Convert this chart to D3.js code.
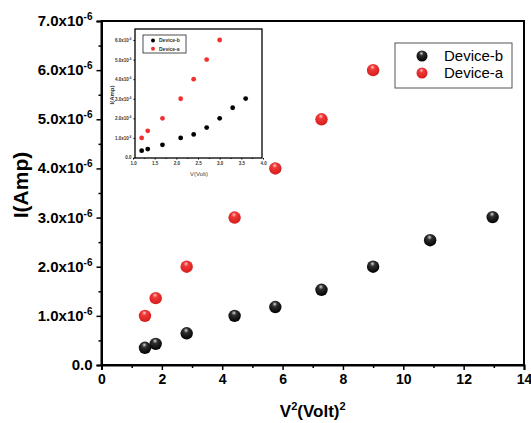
<!DOCTYPE html>
<html>
<head>
<meta charset="utf-8">
<script src="https://cdn.jsdelivr.net/npm/d3@7"></script>
<style>
  body { margin: 0; background: #fff; }
  svg { display: block; font-family: "Liberation Sans", Arial, sans-serif; }
</style>
</head>
<body>
<div id="chart"></div>
<script>
// voltages (V) and currents (x1e-6 A)
const voltB = [1.2, 1.34, 1.68, 2.1, 2.4, 2.7, 3.0, 3.3, 3.6];
const currB = [0.35, 0.43, 0.645, 1.0, 1.18, 1.53, 2.0, 2.54, 3.01];
const voltA = [1.2, 1.34, 1.68, 2.1, 2.4, 2.7, 3.0];
const currA = [1.0, 1.36, 2.0, 3.0, 4.0, 5.0, 6.0];

const seriesNames = ["Device-b", "Device-a"];
const xTicks = [0, 2, 4, 6, 8, 10, 12, 14];
const yTicks = [0, 1, 2, 3, 4, 5, 6, 7];
const insetXTicks = [1.0, 1.5, 2.0, 2.5, 3.0, 3.5, 4.0];
const insetYTicks = [0, 1, 2, 3, 4, 5, 6];

const W = 531, H = 423;
const svg = d3.select("#chart").append("svg").attr("width", W).attr("height", H);

// sphere gradients
const defs = svg.append("defs");
function ball(id, hi, mid, lo) {
    let g = defs.append("radialGradient").attr("id", id)
        .attr("cx", "45%").attr("cy", "35%").attr("r", "65%")
        .attr("fx", "45%").attr("fy", "25%");
    g.append("stop").attr("offset", "0%").attr("stop-color", hi);
    g.append("stop").attr("offset", "30%").attr("stop-color", mid);
    g.append("stop").attr("offset", "100%").attr("stop-color", lo);
}
ball("ballB", "#d8d8d8", "#303030", "#000");
ball("ballA", "#ffc8c8", "#f03838", "#d41c1c");

const dataB = voltB.map((v, i) => ({v: v, i: currB[i]}));
const dataA = voltA.map((v, i) => ({v: v, i: currA[i]}));

// ---------- main chart ----------
const m = {left: 101.5, right: 524, top: 21, bottom: 365};
const x = d3.scaleLinear().domain([0, 14]).range([m.left, m.right]);
const y = d3.scaleLinear().domain([0, 7]).range([m.bottom, m.top]);

// frame
svg.append("rect")
    .attr("x", m.left).attr("y", m.top)
    .attr("width", m.right - m.left).attr("height", m.bottom - m.top)
    .attr("fill", "none").attr("stroke", "#000").attr("stroke-width", 2);

// minor ticks
svg.append("g").attr("transform", `translate(0,${m.bottom})`)
    .call(d3.axisBottom(x).tickValues(d3.range(1, 14, 2)).tickSize(3).tickFormat(""))
    .call(g => g.select(".domain").remove())
    .selectAll("line").attr("stroke-width", 1.5);
svg.append("g").attr("transform", `translate(${m.left},0)`)
    .call(d3.axisLeft(y).tickValues(d3.range(0.5, 7, 1)).tickSize(3).tickFormat(""))
    .call(g => g.select(".domain").remove())
    .selectAll("line").attr("stroke-width", 1.5);

// major x axis
const gx = svg.append("g").attr("transform", `translate(0,${m.bottom})`)
    .call(d3.axisBottom(x).tickValues(xTicks).tickSize(5).tickPadding(4).tickFormat(d3.format("d")));
gx.select(".domain").attr("stroke-width", 2);
gx.selectAll("line").attr("stroke-width", 1.5);
gx.selectAll("text").attr("font-size", 14).attr("font-weight", "bold")
    .attr("font-family", "Liberation Sans, Arial").attr("fill", "#000");

// major y axis, with superscript labels
const gy = svg.append("g").attr("transform", `translate(${m.left},0)`)
    .call(d3.axisLeft(y).tickValues(yTicks).tickSize(5).tickPadding(4));
gy.select(".domain").attr("stroke-width", 2);
gy.selectAll("line").attr("stroke-width", 1.5);
gy.selectAll("text").each(function(d) {
    let t = d3.select(this).text("")
        .attr("font-size", 15).attr("font-weight", "bold")
        .attr("font-family", "Liberation Sans, Arial").attr("fill", "#000");
    if (d === 0) {
        t.text("0.0");
    } else {
        t.append("tspan").text(d3.format(".1f")(d) + "x10");
        t.append("tspan").attr("dy", -6).attr("font-size", 10).text("-6");
    }
});
gy.selectAll("text").attr("dy", d => d === 0 ? "0.3em" : "0.3em");

// axis titles
svg.append("text")
    .attr("transform", `translate(28,${(m.top + m.bottom) / 2 - 8}) rotate(-90)`)
    .attr("text-anchor", "middle").attr("font-size", 21).attr("font-weight", "bold")
    .text("I(Amp)");

const xt = svg.append("text").attr("x", (m.left + m.right) / 2).attr("y", 417)
    .attr("text-anchor", "middle").attr("font-size", 17).attr("font-weight", "bold");
xt.append("tspan").text("V");
xt.append("tspan").attr("dy", -7).attr("font-size", 11).text("2");
xt.append("tspan").attr("dy", 7).text("(Volt)");
xt.append("tspan").attr("dy", -7).attr("font-size", 11).text("2");

// points
svg.append("g").selectAll("circle").data(dataB).join("circle")
    .attr("cx", d => x(d.v * d.v)).attr("cy", d => y(d.i))
    .attr("r", 6.2).attr("fill", "url(#ballB)");
svg.append("g").selectAll("circle").data(dataA).join("circle")
    .attr("cx", d => x(d.v * d.v)).attr("cy", d => y(d.i))
    .attr("r", 6.2).attr("fill", "url(#ballA)");

// legend
const lg = svg.append("g");
lg.append("rect").attr("x", 395).attr("y", 43).attr("width", 117).attr("height", 45)
    .attr("fill", "#fff").attr("stroke", "#555").attr("stroke-width", 1);
seriesNames.forEach((name, k) => {
    lg.append("circle").attr("cx", 422).attr("cy", 56 + k * 17).attr("r", 5.5)
        .attr("fill", k === 0 ? "url(#ballB)" : "url(#ballA)");
    lg.append("text").attr("x", 444).attr("y", 56 + k * 17).attr("dy", "0.35em")
        .attr("font-size", 15).text(name);
});

// ---------- inset ----------
const n = {left: 135, right: 262, top: 29, bottom: 158};
const ix = d3.scaleLinear().domain([1.0, 4.0]).range([133, 263]);
const iy = d3.scaleLinear().domain([0, 6]).range([157.5, 40]);

svg.append("rect")
    .attr("x", n.left).attr("y", n.top)
    .attr("width", n.right - n.left).attr("height", n.bottom - n.top)
    .attr("fill", "#fff").attr("stroke", "#000").attr("stroke-width", 1.3);

const igx = svg.append("g").attr("transform", `translate(0,${n.bottom})`)
    .call(d3.axisBottom(ix).tickValues(insetXTicks).tickSize(1.5).tickPadding(2).tickFormat(d3.format(".1f")));
igx.select(".domain").remove();
igx.selectAll("text").attr("font-size", 4.5).attr("font-weight", "bold").attr("fill", "#333");
svg.append("g").attr("transform", `translate(0,${n.bottom})`)
    .call(d3.axisBottom(ix).tickValues(d3.range(1.25, 4, 0.5)).tickSize(1).tickFormat(""))
    .call(g => g.select(".domain").remove());

const igy = svg.append("g").attr("transform", `translate(${n.left},0)`)
    .call(d3.axisLeft(iy).tickValues(insetYTicks).tickSize(1.5).tickPadding(2));
igy.select(".domain").remove();
igy.selectAll("text").each(function(d) {
    let t = d3.select(this).text("").attr("font-size", 4.5).attr("font-weight", "bold").attr("fill", "#333");
    if (d === 0) {
        t.text("0.0");
    } else {
        t.append("tspan").text(d3.format(".1f")(d) + "x10");
        t.append("tspan").attr("dy", -2).attr("font-size", 3).text("-6");
    }
});

svg.append("text")
    .attr("transform", `translate(114,95) rotate(-90)`)
    .attr("text-anchor", "middle").attr("font-size", 6).attr("font-weight", "bold")
    .attr("fill", "#333").text("I(Amp)");
svg.append("text").attr("x", 199).attr("y", 176)
    .attr("text-anchor", "middle").attr("font-size", 6).attr("fill", "#444")
    .text("V(Volt)");

svg.append("g").selectAll("circle").data(dataB).join("circle")
    .attr("cx", d => ix(d.v)).attr("cy", d => iy(d.i))
    .attr("r", 2.4).attr("fill", "#000");
svg.append("g").selectAll("circle").data(dataA).join("circle")
    .attr("cx", d => ix(d.v)).attr("cy", d => iy(d.i))
    .attr("r", 2.4).attr("fill", "#f23030");

const il = svg.append("g");
il.append("rect").attr("x", 143).attr("y", 35).attr("width", 43).attr("height", 18)
    .attr("fill", "#fff").attr("stroke", "#222").attr("stroke-width", 0.8);
seriesNames.forEach((name, k) => {
    il.append("circle").attr("cx", 153).attr("cy", 40.5 + k * 8.3).attr("r", 2)
        .attr("fill", k === 0 ? "#000" : "#f23030");
    il.append("text").attr("x", 159).attr("y", 40.5 + k * 8.3).attr("dy", "0.35em")
        .attr("font-size", 5).attr("font-weight", "bold").attr("fill", "#333").text(name);
});
</script>
</body>
</html>
